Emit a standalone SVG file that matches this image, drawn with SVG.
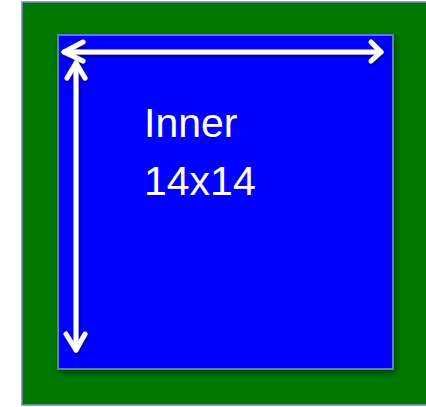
<svg xmlns="http://www.w3.org/2000/svg" width="426" height="407" viewBox="0 0 426 407">
<style>
.arrow{stroke:#ffffff;stroke-width:5;fill:none;stroke-linecap:round;stroke-linejoin:round}
.lbl{font-family:"Liberation Sans","Open Sans",Arial,sans-serif;font-size:41px;fill:#ffffff}
</style>
<defs>
<filter id="sh" x="-10%" y="-10%" width="130%" height="130%">
<feDropShadow dx="2" dy="3" stdDeviation="3" flood-color="#000000" flood-opacity="0.45"/>
</filter>
<filter id="ash" x="-20%" y="-20%" width="140%" height="140%">
<feDropShadow dx="1" dy="2" stdDeviation="1.5" flood-color="#000040" flood-opacity="0.6"/>
</filter>
</defs>
<rect width="426" height="407" fill="#ffffff"/>
<g id="outer">
<rect x="22" y="2" width="420" height="403" fill="#007800" stroke="#6a8cc4" stroke-width="1.5"/>
</g>
<g id="inner">
<rect x="58" y="35" width="335" height="334" fill="#0000ff" stroke="#5a7fc0" stroke-width="2" filter="url(#sh)"/>
<text class="lbl" x="144" y="137">Inner</text>
<text class="lbl" x="144" y="195">14x14</text>
</g>
<g id="connectors" filter="url(#ash)">
<path class="arrow" d="M64 52 H381"/>
<path class="arrow" d="M83 42 L64 52 L83 61"/>
<path class="arrow" d="M371 42 L381 52 L371 61"/>
<path class="arrow" d="M76 63 V350"/>
<path class="arrow" d="M67 78 L76 63 L85 78"/>
<path class="arrow" d="M66 334 L76 350 L85 334"/>
</g>
</svg>
